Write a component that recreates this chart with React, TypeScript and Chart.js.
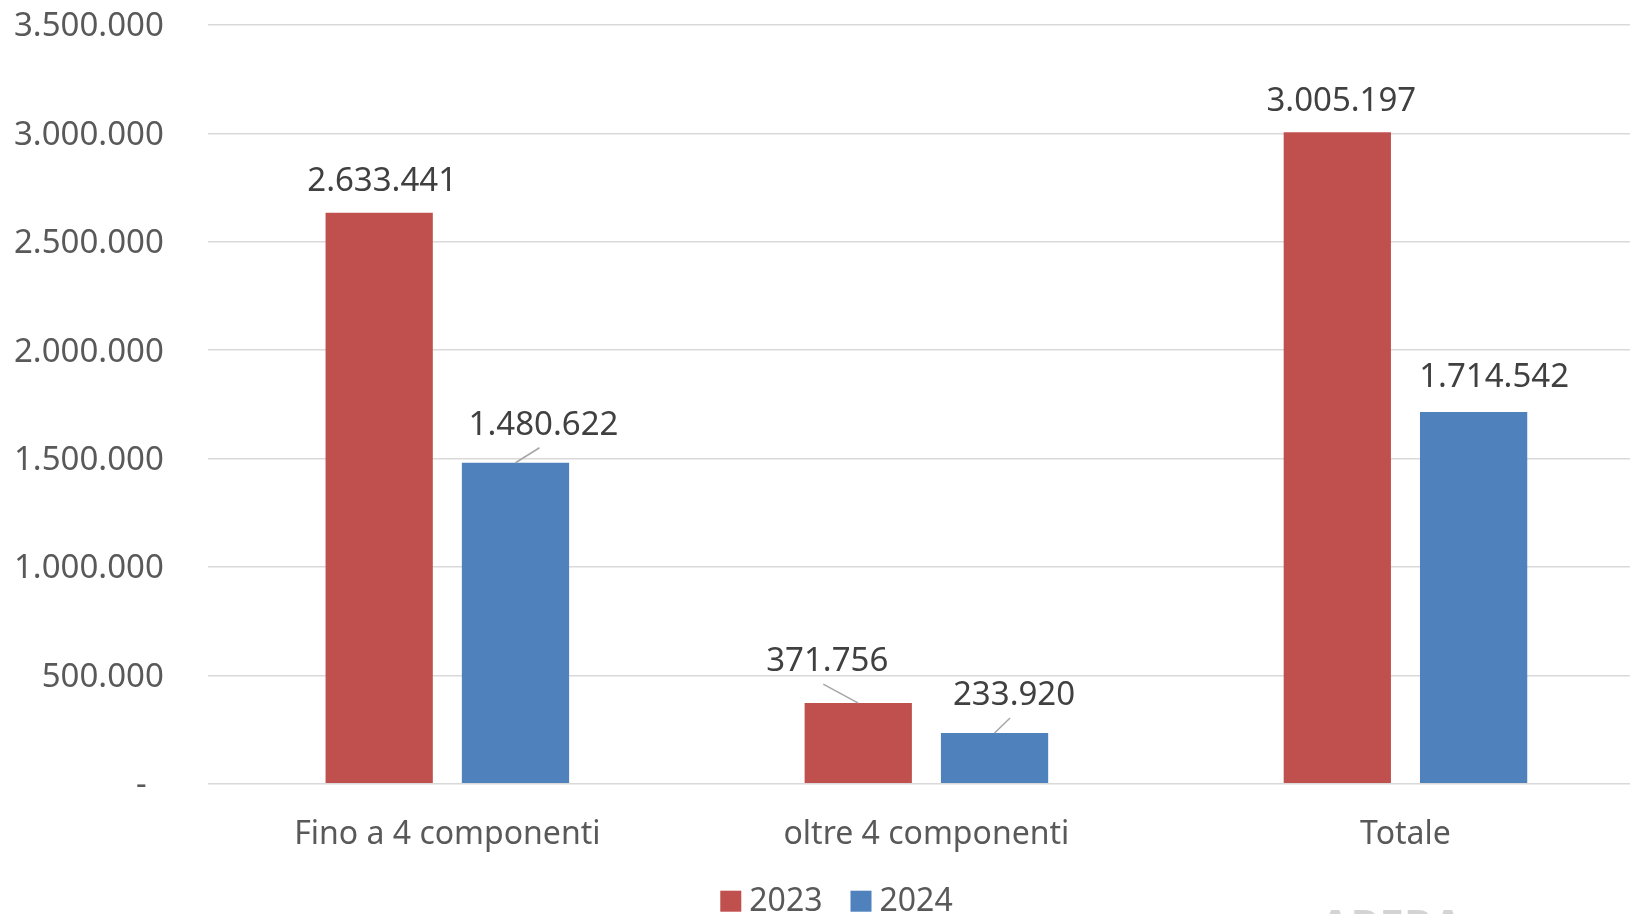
import React, { useEffect, useRef } from "react";
import { Chart, registerables } from "chart.js";

Chart.register(...registerables);

const categories = ["Fino a 4 componenti", "oltre 4 componenti", "Totale"];
const seriesNames = ["2023", "2024"];
const values2023 = [2633441, 371756, 3005197];
const values2024 = [1480622, 233920, 1714542];
const yMin = 0;
const yMax = 3500000;
const yStep = 500000;

const seriesColors = ["#C0504D", "#4F81BD"];
const FONT = '"Noto Sans", "Open Sans", sans-serif';

// label placement tweaks (dx from bar centre, dy of baseline from bar top)
const labelOffsets = [
  [
    { dx: 3, dy: -22, leader: false },
    { dx: -31, dy: -32, leader: true },
    { dx: 4, dy: -21, leader: false },
  ],
  [
    { dx: 28, dy: -28, leader: true },
    { dx: 19.5, dy: -28, leader: true },
    { dx: 20.5, dy: -25, leader: false },
  ],
];

function fmt(v: number): string {
  const s = Math.round(Math.abs(v)).toString();
  return s.replace(/\B(?=(\d{3})+(?!\d))/g, ".");
}

const dataLabelPlugin = {
  id: "dataLabels",
  afterDatasetsDraw(chart: any) {
    const ctx = chart.ctx;
    ctx.save();
    ctx.font = `33px ${FONT}`;
    ctx.textAlign = "center";
    ctx.textBaseline = "alphabetic";
    chart.data.datasets.forEach((ds: any, di: number) => {
      const meta = chart.getDatasetMeta(di);
      meta.data.forEach((bar: any, i: number) => {
        const { x, y } = bar.getProps(["x", "y"], true);
        const off = labelOffsets[di][i];
        const lx = x + off.dx;
        const ly = y + off.dy;
        if (off.leader) {
          ctx.strokeStyle = "#a6a6a6";
          ctx.lineWidth = 1.5;
          ctx.beginPath();
          ctx.moveTo(x, y);
          ctx.lineTo(lx - 4, ly + 13);
          ctx.stroke();
        }
        ctx.fillStyle = "#404040";
        ctx.fillText(fmt(ds.data[i]), lx, ly);
      });
    });
    ctx.restore();
  },
};

const legendPlugin = {
  id: "customLegend",
  afterDraw(chart: any) {
    const ctx = chart.ctx;
    ctx.save();
    ctx.font = `32px ${FONT}`;
    ctx.textBaseline = "alphabetic";
    ctx.textAlign = "left";
    const box = 21;
    const gapBT = 8;
    const gapItems = 28;
    const items = chart.data.datasets.map((d: any) => ({
      label: d.label,
      color: d.backgroundColor,
      w: ctx.measureText(d.label).width,
    }));
    const total =
      items.reduce((s: number, it: any) => s + box + gapBT + it.w, 0) +
      gapItems * (items.length - 1);
    const cx = chart.width / 2 + 14;
    let x = cx - total / 2;
    const baseline = chart.chartArea.bottom + 127;
    items.forEach((it: any) => {
      ctx.fillStyle = it.color;
      ctx.fillRect(x, baseline - 20, box, box);
      x += box + gapBT;
      ctx.fillStyle = "#595959";
      ctx.fillText(it.label, x, baseline);
      x += it.w + gapItems;
    });
    // faint watermark, cut by the bottom edge
    ctx.font = `bold 44px ${FONT}`;
    ctx.fillStyle = "rgba(160,160,160,0.45)";
    ctx.fillText("ARERA", 1320, chart.chartArea.bottom + 158);
    ctx.restore();
  },
};

export default function App() {
  const ref = useRef<HTMLCanvasElement | null>(null);

  useEffect(() => {
    if (!ref.current) return;
    const chart = new Chart(ref.current, {
      type: "bar",
      data: {
        labels: categories,
        datasets: [
          {
            label: seriesNames[0],
            data: values2023,
            backgroundColor: seriesColors[0],
            borderWidth: 0,
            categoryPercentage: 0.569,
            barPercentage: 0.787,
          },
          {
            label: seriesNames[1],
            data: values2024,
            backgroundColor: seriesColors[1],
            borderWidth: 0,
            categoryPercentage: 0.569,
            barPercentage: 0.787,
          },
        ],
      },
      options: {
        animation: false,
        responsive: false,
        maintainAspectRatio: false,
        layout: { padding: { top: 25, left: 0, right: 0, bottom: 60.3 } },
        plugins: {
          legend: { display: false },
          tooltip: { enabled: false },
        },
        scales: {
          x: {
            grid: { display: false, drawTicks: false },
            border: { display: false },
            ticks: {
              color: "#595959",
              font: { family: FONT, size: 32 },
              padding: 32,
              maxRotation: 0,
              autoSkip: false,
            },
            afterFit: (scale: any) => {
              scale.height = 70;
              scale.paddingLeft = 0;
              scale.paddingRight = 0;
            },
          },
          y: {
            min: yMin,
            max: yMax,
            grid: { color: "#d9d9d9", lineWidth: 1.5, drawTicks: false },
            border: { display: false },
            ticks: {
              stepSize: yStep,
              color: "#595959",
              font: { family: FONT, size: 33 },
              padding: 44,
              labelOffset: 2,
              callback: (v: any) => (Number(v) === 0 ? "-  " : fmt(Number(v))),
            },
            afterFit: (scale: any) => {
              scale.width = 207.8;
              scale.paddingTop = 0;
              scale.paddingBottom = 0;
            },
          },
        },
      },
      plugins: [dataLabelPlugin, legendPlugin],
    });
    return () => chart.destroy();
  }, []);

  return (
    <div
      style={{
        position: "fixed",
        left: 0,
        top: 0,
        width: 1630,
        height: 914,
        overflow: "hidden",
        background: "#ffffff",
      }}
    >
      <canvas ref={ref} width={1645} height={914} style={{ display: "block" }} />
    </div>
  );
}
